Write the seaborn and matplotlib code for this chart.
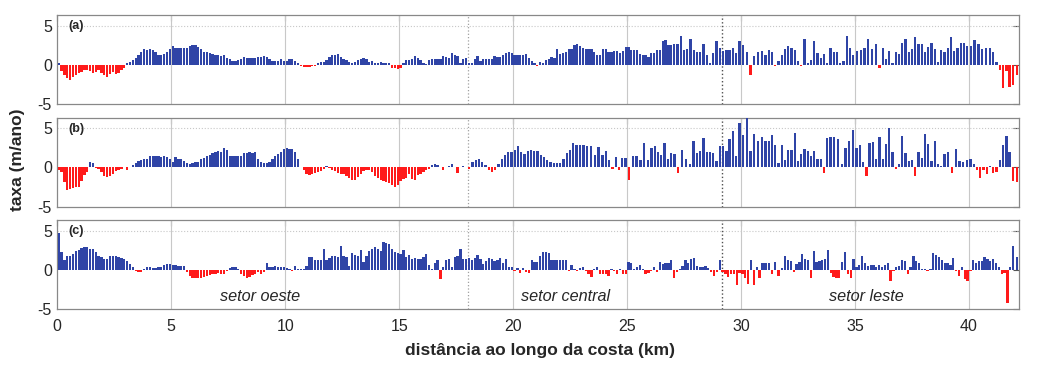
import numpy as np
import pandas as pd
import seaborn as sns
import matplotlib.pyplot as plt

# taxa de variação da linha de costa (m/ano), uma linha por km ao longo da costa
km_max = 42.2
setor_limites = [18.0, 29.15]
setores = ['setor oeste', 'setor central', 'setor leste']
setor_centros = [8.9, 22.3, 35.5]

taxa_a = [
    [0.3, -0.8, -1.3, -1.7, -1.9, -1.6, -1.3, -1.0],
    [-0.9, -0.7, -0.6, -0.8, -1.0, -0.9, -0.7, -1.0],
    [-1.3, -1.5, -1.1, -0.9, -1.2, -1.0, -0.7, -0.4],
    [0.2, 0.4, 0.6, 0.9, 1.3, 1.6, 2.0, 1.9],
    [2.0, 1.9, 1.7, 1.3, 1.2, 1.4, 1.7, 2.0],
    [2.4, 2.2, 2.2, 2.1, 2.1, 2.2, 2.4, 2.5],
    [2.5, 2.3, 2.0, 1.7, 1.6, 1.5, 1.4, 1.2],
    [1.2, 1.1, 1.2, 0.9, 0.8, 0.5, 0.5, 0.6],
    [0.8, 1.0, 0.9, 0.9, 0.9, 0.9, 1.0, 1.0],
    [1.1, 1.0, 0.7, 0.5, 0.5, 0.5, 0.7, 0.5],
    [0.5, 0.8, 0.8, 0.5, 0.2, -0.1, -0.3, -0.3],
    [-0.3, -0.2, -0.2, 0.3, 0.4, 0.4, 0.6, 1.0],
    [1.2, 1.3, 1.4, 1.0, 0.8, 0.6, 0.4, 0.3],
    [0.4, 0.6, 0.8, 0.9, 0.8, 0.4, 0.5, 0.3],
    [0.3, 0.4, 0.3, 0.3, 0.3, -0.4, -0.4, -0.5],
    [-0.4, 0.3, 0.6, 0.6, 0.8, 1.1, 0.9, 0.6],
    [0.2, 0.1, 0.6, 0.8, 0.8, 0.8, 0.8, 1.1],
    [1.0, 0.9, 1.5, 1.3, 1.1, 0.3, 0.8, 0.9],
    [0.2, 0.3, 0.7, 1.1, 0.5, 0.8, 0.8, 0.7],
    [0.7, 1.1, 1.0, 1.0, 1.3, 1.5, 1.7, 1.5],
    [1.3, 1.2, 1.2, 1.2, 1.4, 0.9, 0.5, 0.2],
    [-0.1, 0.4, 0.3, 0.6, 0.8, 1.0, 0.9, 2.0],
    [1.4, 1.5, 1.7, 2.0, 2.0, 2.5, 2.6, 2.4],
    [2.1, 2.0, 2.0, 2.0, 1.7, 1.3, 1.3, 2.0],
    [2.0, 1.7, 1.6, 1.8, 1.8, 1.5, 1.8, 2.3],
    [2.3, 1.9, 1.9, 1.9, 1.4, 1.2, 1.2, 1.0],
    [1.5, 1.5, 1.9, 1.9, 3.0, 3.2, 2.5, 2.5],
    [2.6, 2.7, 3.7, 1.9, 2.0, 3.3, 1.9],
    [1.6, 1.6, 2.6, 1.3, 0.3, 1.5, 3.0],
    [2.1, 1.8, 1.9, 1.9, 2.1, 1.5, 3.0],
    [2.5, 1.6, -1.3, 1.1, 1.7, 1.8],
    [1.2, 1.9, 1.6, -0.2, 0.5, 1.2, 2.0],
    [2.4, 2.2, 1.9, 0.5, -0.2, 3.3, 0.2],
    [0.6, 3.1, 1.5, 0.9, 1.4, 0.2, 2.2],
    [1.6, 1.6, 0.3, 0.5, 3.7, 2.2, 1.2],
    [1.8, 1.9, 2.2, 3.3, 2.0, 2.6],
    [-0.4, 2.1, 0.7, 1.8, 0.3, 1.6, 1.4],
    [2.8, 3.3, 1.6, 2.0, 3.6, 2.7, 2.7],
    [1.7, 2.3, 2.8, 2.0, 0.4, 1.9, 1.6],
    [2.1, 3.5, 1.8, 2.2, 2.8, 2.8, 2.4],
    [2.4, 3.2, 2.6, 2.0, 2.1, 2.1],
    [1.6, 0.4, -0.6, -2.9, -0.8, -2.8, -2.6],
    [-1.3],
]

taxa_b = [
    [-0.4, -0.6, -1.9, -2.9, -2.7, -2.6, -2.5, -2.5],
    [-1.7, -1.0, -0.6, 0.7, 0.6, -0.1, -0.2, -0.6],
    [-1.1, -1.2, -1.1, -0.8, -0.5, -0.3, -0.2, 0.1],
    [-0.3, 0.1, 0.3, 0.5, 0.8, 0.9, 1.0, 1.0],
    [1.4, 1.4, 1.4, 1.4, 1.3, 1.4, 1.3, 1.0],
    [0.7, 1.3, 1.0, 1.0, 0.8, 0.6, 0.4, 0.6],
    [0.7, 0.7, 1.1, 1.2, 1.4, 1.6, 1.8, 2.0],
    [2.1, 1.9, 2.4, 2.2, 1.5, 1.5, 1.5, 1.5],
    [1.5, 1.8, 1.8, 1.9, 1.8, 2.0, 1.0, 0.7],
    [0.6, 0.6, 0.7, 1.0, 1.4, 1.7, 2.0, 2.3],
    [2.4, 2.3, 2.3, 1.9, 1.1, 0.1, -0.4, -0.9],
    [-1.0, -0.8, -0.7, -0.6, -0.5, -0.2, 0.2, -0.1],
    [-0.3, -0.5, -0.7, -0.8, -0.9, -1.1, -1.4, -1.6],
    [-1.6, -1.2, -0.8, -0.5, -0.3, -0.4, -0.6, -1.1],
    [-1.4, -1.6, -1.8, -1.9, -2.0, -2.3, -2.5, -2.2],
    [-1.7, -1.5, -1.3, -0.9, -1.5, -1.6, -1.0, -0.8],
    [-0.6, -0.4, -0.2, 0.3, 0.4, 0.3, 0.1, -0.3],
    [0.1, 0.2, 0.4, 0.1, -0.7, 0.1, 0.2, 0.1],
    [-0.2, 0.7, 0.9, 1.0, 0.7, 0.3, -0.4],
    [-0.6, -0.3, 0.4, 1.1, 1.6, 1.9, 2.0],
    [2.2, 2.7, 1.9, 1.7, 2.1, 2.2, 2.1],
    [2.1, 1.6, 1.3, 0.9, 0.7, 0.6, 0.5],
    [0.6, 1.0, 1.8, 2.2, 3.1, 2.9, 2.8],
    [2.9, 2.7, 2.7, 1.6, 2.6, 1.6],
    [2.1, 0.9, -0.2, 1.3, -0.4, 1.2, 1.2],
    [-1.6, 1.5, 1.4, 0.9, 3.1, 0.9],
    [2.4, 2.7, 2.0, 1.6, 3.1, 1.0, 1.8],
    [1.7, -0.7, 2.2, 1.0, 0.4, 3.3],
    [1.8, 2.1, 3.7, 2.0, 1.9, 1.8, 0.8],
    [2.7, 2.7, 2.1, 3.6, 4.6, 1.4, 5.7],
    [4.1, 6.3, 2.1, 4.2, 3.4, 3.9],
    [3.4, 3.3, 4.1, 2.8, 0.5, 2.8, 0.9],
    [2.2, 2.2, 4.4, 0.8, 1.7, 2.3, 2.1],
    [1.4, 2.1, 1.1, 1.1, -0.7, 3.7, 3.9],
    [3.9, 3.6, 0.4, 2.4, 3.4, 4.7],
    [2.5, 2.9, 0.7, -1.1, 3.1, 3.2, 1.1],
    [3.8, 1.1, 3.0, 5.0, 1.9, -0.2, 0.4],
    [4.0, 1.8, 0.8, 0.9, -1.1, 1.9, 1.2],
    [4.3, 3.0, 0.8, 3.3, 0.4, 0.2, 1.7],
    [1.9, -0.7, 2.3, 0.8, 0.7, 0.9],
    [1.1, 0.4, -0.3, -1.3, -0.3, -0.9, 0.2],
    [-0.7, -0.6, 0.9, 2.8, 4.0, 1.9, -1.7],
    [-1.9],
]

taxa_c = [
    [4.7, 2.3, 1.2, 1.7, 1.8, 2.0, 2.4, 2.5],
    [2.8, 2.9, 2.9, 2.6, 2.6, 2.2, 1.7, 1.6],
    [1.4, 1.4, 1.7, 1.8, 1.7, 1.6, 1.5, 1.4],
    [1.1, 0.7, 0.3, -0.2, -0.3, -0.3, 0.1, 0.3],
    [0.3, 0.2, 0.2, 0.3, 0.3, 0.6, 0.7, 0.7],
    [0.6, 0.6, 0.5, 0.5, 0.5, -0.3, -0.8, -1.1],
    [-1.1, -1.0, -1.0, -0.9, -0.8, -0.7, -0.6, -0.5],
    [-0.4, -0.5, -0.5, -0.2, 0.2, 0.4, 0.3, 0.1],
    [-0.5, -0.8, -1.1, -0.9, -0.7, -0.5, -0.3, -0.5],
    [-0.3, 0.8, 0.4, 0.3, 0.5, 0.3, 0.4, 0.4],
    [0.2, 0.1, -0.2, 0.5, 0.1, 0.1, 0.1, 0.5],
    [1.6, 1.6, 1.2, 1.2, 1.2, 2.6, 1.3, 1.5],
    [1.7, 1.7, 1.6, 3.0, 1.8, 1.6, 0.5, 2.1],
    [1.9, 1.8, 2.5, 1.0, 1.8, 2.4, 2.7, 2.9],
    [2.6, 2.4, 3.5, 3.4, 3.3, 2.6, 2.2, 2.1],
    [2.0, 2.5, 1.6, 1.9, 1.4, 1.5, 1.4, 1.4],
    [1.6, 2.0, 0.6, 0.1, 0.9, 1.2, -1.2, 0.3],
    [1.3, 1.4, 0.4, 1.6, 1.7, 2.6, 1.4, 1.4],
    [1.5, 1.3, 1.5, 1.9, 1.4, 0.7, 1.1, 1.5],
    [1.4, 1.1, 1.3, 1.5, 0.8, 1.4, 0.4, 0.3],
    [-0.1, 0.2, -0.4, 0.2, -0.3, -0.4, 1.3, 1.0],
    [1.0, 1.7, 2.2, 2.3, 2.1, 1.2, 1.2, 1.2],
    [1.2, 1.2, 1.2, -0.2, 0.6, 0.1, -0.1, 0.2],
    [0.4, -0.1, -0.6, -0.9, 0.1, 0.4, -0.5, -0.6],
    [-0.5, -0.8, 0.1, -0.2, -0.5, 0.1, -0.6, -0.6],
    [1.0, 0.8, 0.1, 0.3, 0.6, 0.1, -0.5, -0.4],
    [-0.1, 0.4, -0.3, 1.0, 0.7, 0.8, 0.9, 1.2],
    [-1.1, -0.3, 0.1, 0.5, 1.2, 0.8, 1.4, 1.5],
    [0.5, 0.4, 0.4, 0.5, 0.2, -0.3, -0.8, -0.3],
    [1.2, -0.3, -0.6, -0.9, -0.6, -0.5, -2.0, -0.4],
    [-0.6, -1.0, -1.8, 1.2, -2.0, 0.4, -1.1, 0.8],
    [0.9, 0.9, -0.6, 1.0, -0.8, 0.2, 1.7],
    [1.2, 1.1, -0.3, 0.7, 1.0, 2.0, 1.4, 1.2],
    [-1.0, 2.4, 1.0, 1.1, 1.3, 1.4, 2.5, -0.4],
    [-0.9, -1.1, -1.0, 1.0, 2.3, -0.6, -1.1, 1.4],
    [0.4, 0.6, 1.8, 0.8, 0.5, 0.6, 0.6, 0.4],
    [0.6, 0.3, 0.6, 0.8, -1.4, -0.2, 0.3, 0.5],
    [1.3, 1.1, -0.5, 0.4, 1.7, 1.1, 0.9, 0.1],
    [0.1, -0.2, 0.1, 2.1, 1.9, 1.6, 1.3, 0.8],
    [0.8, 0.6, 1.5, -0.1, -0.8, 0.4, -1.2, -1.4],
    [-0.2, 1.2, 0.9, 1.1, 1.1, 1.6, 1.4, 1.1],
    [1.4, 0.8, 0.3, -0.6, -0.4, -4.2, 0.4, 3.0],
    [1.6],
]

paineis = ['(a)', '(b)', '(c)']
series = [taxa_a, taxa_b, taxa_c]


def monta_tabela(linhas):
    reg = []
    for k, vals in enumerate(linhas):
        comp = min(1.0, km_max - k)
        n = len(vals)
        for i, v in enumerate(vals):
            reg.append((k + (i + 0.5) * comp / n, v))
    df = pd.DataFrame(reg, columns=['km', 'taxa'])
    df['sinal'] = np.where(df.taxa >= 0, 'pos', 'neg')
    return df


sns.set_style('white')
plt.rcParams['font.family'] = ['Liberation Sans', 'DejaVu Sans']
plt.rcParams['axes.unicode_minus'] = False

fig, axes = plt.subplots(3, 1, figsize=(10.42, 3.67), dpi=100, sharex=True)
fig.subplots_adjust(left=0.055, right=0.978, top=0.958, bottom=0.158, hspace=0.155)

cores = {'pos': '#2f44a6', 'neg': '#ff1a1a'}

for ax, nome, linhas in zip(axes, paineis, series):
    df = monta_tabela(linhas)
    sns.barplot(data=df, x='km', y='taxa', hue='sinal', palette=cores,
                saturation=1, native_scale=True, dodge=False, errorbar=None,
                legend=False, width=0.8, linewidth=0, ax=ax, zorder=3)
    for xv in range(5, 45, 5):
        ax.axvline(xv, color='#c8c8c8', lw=0.8, zorder=1)
    ax.axhline(5, color='#c8c8c8', lw=0.8, ls=':', zorder=1)
    ax.axvline(setor_limites[0], color='#a0a0a0', lw=0.9, ls=':', zorder=1)
    ax.axvline(setor_limites[1], color='#505050', lw=1.0, ls=':', zorder=1)
    ax.set_xlim(0, km_max)
    ax.set_ylim(-5, 6.3)
    ax.set_yticks([-5, 0, 5])
    ax.set_xticks(range(0, 45, 5))
    ax.set_xlabel('')
    ax.set_ylabel('')
    ax.tick_params(direction='in', length=4, width=0.8, color='#555555',
                   top=True, right=True, labelsize=11.5, pad=4)
    ax.tick_params(axis='x', pad=7)
    for s in ax.spines.values():
        s.set_color('#888888')
        s.set_linewidth(0.9)
    ax.text(0.011, 0.88, nome, transform=ax.transAxes, fontsize=9,
            fontweight='bold', va='center', ha='left')

for nome, xc in zip(setores, setor_centros):
    axes[2].text(xc, -3.4, nome, fontsize=11.7, style='italic', ha='center', va='center')

fig.text(0.017, 0.565, 'taxa (m/ano)', rotation=90, fontsize=12.5,
         fontweight='bold', ha='center', va='center')
fig.text(0.518, 0.045, 'distância ao longo da costa (km)', fontsize=12.5,
         fontweight='bold', ha='center', va='center')

fig.savefig('out.png', dpi=100)
